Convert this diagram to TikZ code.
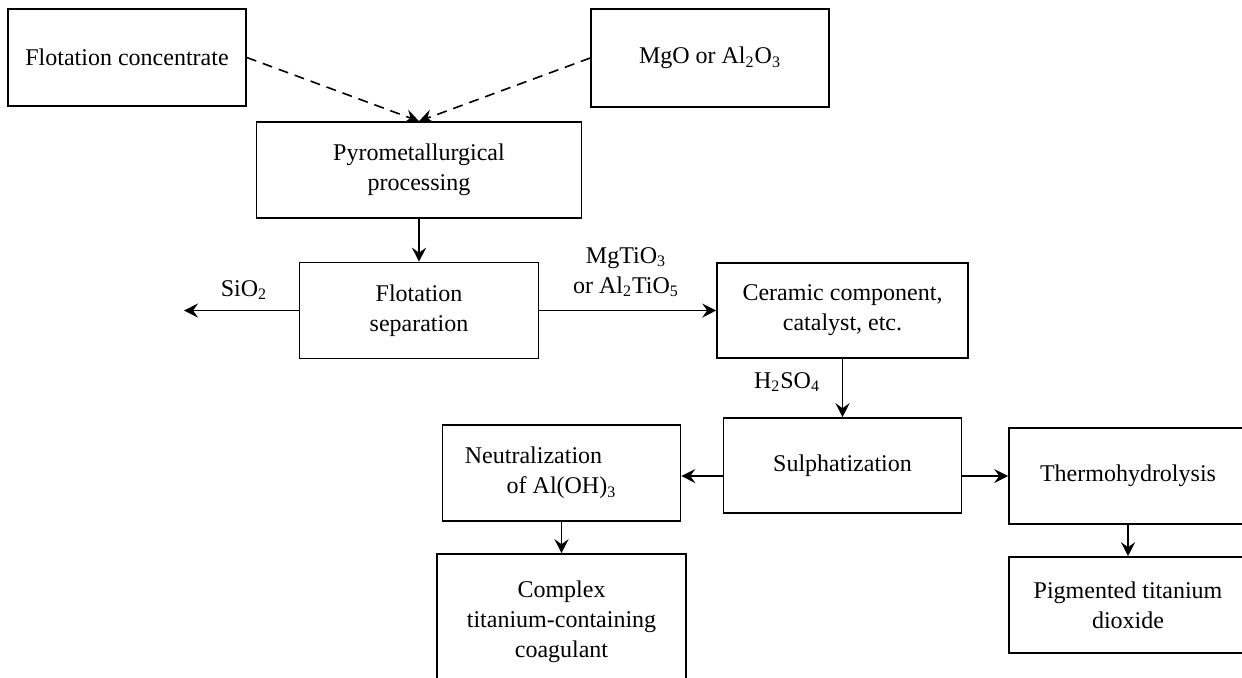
\documentclass[tikz,border=0pt]{standalone}
\usepackage{fontspec}
\setmainfont{Liberation Serif}
\usetikzlibrary{arrows.meta}
\newcommand{\indice}[1]{\textsubscript{#1}}

\begin{document}
\begin{tikzpicture}[x=0.5pt,y=-0.5pt,font=\fontsize{12}{15}\selectfont]
\tikzstyle{bloco}=[draw, line width=0.8pt, align=center, inner sep=0pt]
\tikzstyle{seta}=[line width=0.8pt, -{Stealth[length=7pt,width=7pt,inset=2.5pt]}]
\tikzstyle{tracejada}=[dash pattern=on 5pt off 3.5pt]
\tikzstyle{rotulo}=[align=center, inner sep=0pt]
\useasboundingbox (0,0) rectangle (1242,677);
 % entradas
 \node[bloco, minimum width=119pt, minimum height=48.5pt] (conc) at (127,57.5) {Flotation concentrate};
 \node[bloco, minimum width=119pt, minimum height=49pt] (mgo) at (710,58) {MgO or Al\indice{2}O\indice{3}};
 \node[bloco, minimum width=162.5pt, minimum height=48pt] (piro) at (419,170) {Pyrometallurgical\\ processing};
 \node[bloco, minimum width=119.5pt, minimum height=48pt] (flot) at (419,310.5) {Flotation\\ separation};
 \node[bloco, minimum width=125.5pt, minimum height=47.5pt] (ceram) at (842.5,310.5) {Ceramic component,\\ catalyst, etc.};
 \node[bloco, minimum width=119pt, minimum height=47.5pt] (sulf) at (842.5,465.5) {Sulphatization};
 \node[bloco, minimum width=119pt, minimum height=48pt] (neut) at (561.5,473) {Neutralization\hspace*{28pt}\\ of Al(OH)\indice{3}};
 \node[bloco, minimum width=119pt, minimum height=48pt] (termo) at (1128,476) {Thermohydrolysis};
 \node[bloco, minimum width=124.5pt, minimum height=68pt] (coag) at (561.5,622) {Complex\\ titanium-containing\\ coagulant};
 \node[bloco, minimum width=119pt, minimum height=48pt] (pigm) at (1128,605) {Pigmented titanium\\ dioxide};
 \coordinate (saida) at (184,310.5);
 % ligacoes
 \draw[seta, tracejada] (conc.east) -- (piro.north);
 \draw[seta, tracejada] (mgo.west) -- (piro.north);
 \draw[seta] (piro.south) -- (flot.north);
 \draw[seta] (flot.west) -- (saida);
 \draw[seta] (flot.east) -- (ceram.west);
 \draw[seta] (ceram.south) -- (sulf.north);
 \draw[seta] (sulf.west |- termo) -- (neut.east |- termo);
 \draw[seta] (sulf.east |- termo) -- (termo.west);
 \draw[seta] (neut.south) -- (coag.north);
 \draw[seta] (termo.south) -- (pigm.north);
 % rotulos
 \node[rotulo] (lsio) at (244,290) {SiO\indice{2}};
 \node[rotulo] (ltio) at (626,272) {MgTiO\indice{3}\\ or Al\indice{2}TiO\indice{5}};
 \node[rotulo] (lacido) at (787,382) {H\indice{2}SO\indice{4}};
\end{tikzpicture}
\end{document}
